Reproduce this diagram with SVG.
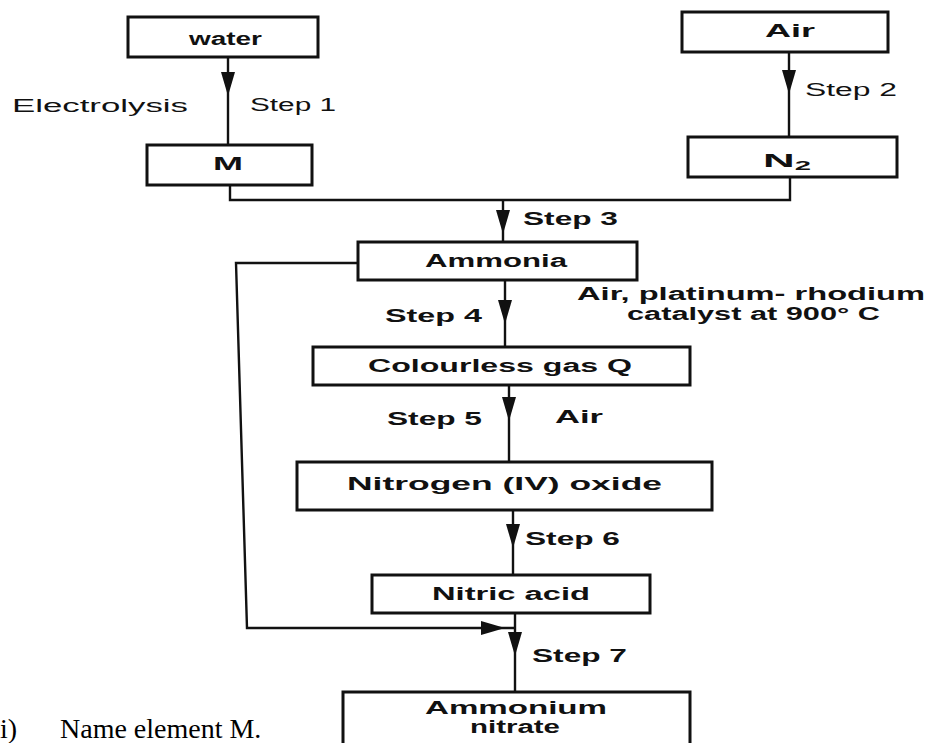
<svg xmlns="http://www.w3.org/2000/svg" xmlns:xlink="http://www.w3.org/1999/xlink" width="929" height="743" viewBox="0 0 929 743">
  <style>
    .box { fill: #ffffff; stroke: #111; stroke-width: 3; }
    .wire { fill: none; stroke: #111; stroke-width: 2.4; }
    .lbl { font-family: "Liberation Sans", Arial, sans-serif; font-size: 18px; fill: #111; }
    .b { font-weight: bold; }
    .q { font-family: "Liberation Serif", "Times New Roman", serif; font-size: 28px; fill: #000; }
  </style>
  <defs>
    <!-- downward arrowhead, tip at origin -->
    <path id="ah" d="M-7,-24 L7,-24 L0,0 Z" fill="#111"/>
  </defs>
  <rect width="929" height="743" fill="#ffffff"/>

  <g id="connectors">
    <line class="wire" x1="228" y1="57" x2="228" y2="145"/>
    <use xlink:href="#ah" transform="translate(228,96)"/>
    <line class="wire" x1="789" y1="52" x2="789" y2="137"/>
    <use xlink:href="#ah" transform="translate(789,94)"/>
    <polyline class="wire" points="230,185 230,200 790,200 790,177"/>
    <line class="wire" x1="503" y1="200" x2="503" y2="242"/>
    <use xlink:href="#ah" transform="translate(503,234)"/>
    <line class="wire" x1="505" y1="280" x2="505" y2="347"/>
    <use xlink:href="#ah" transform="translate(505,324)"/>
    <line class="wire" x1="509" y1="385" x2="509" y2="462"/>
    <use xlink:href="#ah" transform="translate(509,421)"/>
    <line class="wire" x1="513" y1="510" x2="513" y2="575"/>
    <use xlink:href="#ah" transform="translate(513,548)"/>
    <line class="wire" x1="515" y1="613" x2="515" y2="692"/>
    <use xlink:href="#ah" transform="translate(515,656)"/>
    <polyline class="wire" points="358,263 236,263 247,628 515,628"/>
    <use xlink:href="#ah" transform="translate(505,628) rotate(-90)"/>
  </g>

  <g id="water">
    <rect class="box" x="128" y="17" width="190" height="40"/>
    <text class="lbl b" x="189" y="45" textLength="73" lengthAdjust="spacingAndGlyphs">water</text>
  </g>
  <g id="m">
    <rect class="box" x="147" y="145" width="165" height="40"/>
    <text class="lbl b" x="213" y="170" textLength="30" lengthAdjust="spacingAndGlyphs">M</text>
  </g>
  <g id="air">
    <rect class="box" x="682" y="12" width="206" height="40"/>
    <text class="lbl b" x="765" y="37" textLength="50" lengthAdjust="spacingAndGlyphs">Air</text>
  </g>
  <g id="n2">
    <rect class="box" x="688" y="137" width="209" height="40"/>
    <text class="lbl b" x="763" y="167" textLength="48" lengthAdjust="spacingAndGlyphs">N<tspan font-size="12" dy="3">2</tspan></text>
  </g>
  <g id="ammonia">
    <rect class="box" x="358" y="242" width="279" height="38"/>
    <text class="lbl b" x="425" y="267" textLength="142" lengthAdjust="spacingAndGlyphs">Ammonia</text>
  </g>
  <g id="gas-q">
    <rect class="box" x="313" y="347" width="377" height="38"/>
    <text class="lbl b" x="368" y="372" textLength="264" lengthAdjust="spacingAndGlyphs">Colourless gas Q</text>
  </g>
  <g id="no2">
    <rect class="box" x="297" y="462" width="415" height="48"/>
    <text class="lbl b" x="347" y="490" textLength="315" lengthAdjust="spacingAndGlyphs">Nitrogen  (IV) oxide</text>
  </g>
  <g id="nitric-acid">
    <rect class="box" x="372" y="575" width="278" height="38"/>
    <text class="lbl b" x="432" y="600" textLength="158" lengthAdjust="spacingAndGlyphs">Nitric acid</text>
  </g>
  <g id="ammonium-nitrate">
    <rect class="box" x="343" y="692" width="347" height="60"/>
    <text class="lbl b" x="425" y="714" textLength="182" lengthAdjust="spacingAndGlyphs">Ammonium</text>
    <text class="lbl b" x="470" y="733" textLength="90" lengthAdjust="spacingAndGlyphs">nitrate</text>
  </g>

  <g id="labels">
    <text class="lbl" x="12" y="112" textLength="176" lengthAdjust="spacingAndGlyphs">Electrolysis</text>
    <text class="lbl" x="250" y="111" textLength="86" lengthAdjust="spacingAndGlyphs">Step 1</text>
    <text class="lbl" x="805" y="96" textLength="92" lengthAdjust="spacingAndGlyphs">Step 2</text>
    <text class="lbl b" x="523" y="225" textLength="95" lengthAdjust="spacingAndGlyphs">Step 3</text>
    <text class="lbl b" x="385" y="322" textLength="97" lengthAdjust="spacingAndGlyphs">Step 4</text>
    <text class="lbl b" x="577" y="300" textLength="348" lengthAdjust="spacingAndGlyphs">Air, platinum- rhodium</text>
    <text class="lbl b" x="627" y="320" textLength="253" lengthAdjust="spacingAndGlyphs">catalyst at 900° C</text>
    <text class="lbl b" x="387" y="425" textLength="95" lengthAdjust="spacingAndGlyphs">Step 5</text>
    <text class="lbl b" x="555" y="423" textLength="48" lengthAdjust="spacingAndGlyphs">Air</text>
    <text class="lbl b" x="525" y="545" textLength="95" lengthAdjust="spacingAndGlyphs">Step 6</text>
    <text class="lbl b" x="532" y="662" textLength="95" lengthAdjust="spacingAndGlyphs">Step 7</text>
  </g>

  <g id="question">
    <text class="q" x="0" y="738">i)</text>
    <text class="q" x="60" y="738">Name element M.</text>
  </g>
</svg>
